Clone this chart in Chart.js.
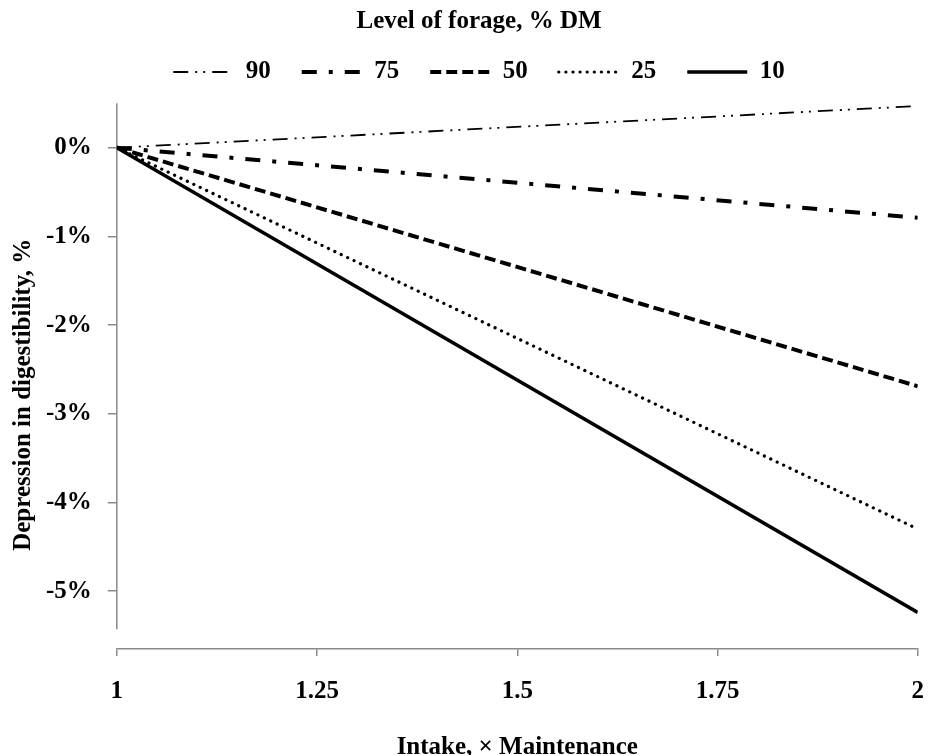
<!DOCTYPE html>
<html>
<head>
<meta charset="utf-8">
<script src="https://cdn.jsdelivr.net/npm/chart.js@4.4.1/dist/chart.umd.min.js"></script>
<style>
  html, body { margin: 0; padding: 0; background: #fff; }
  #wrap { width: 928px; height: 755px; }
</style>
</head>
<body>
<div id="wrap"><canvas id="myChart"></canvas></div>
<script>
// x values: intake as multiple of maintenance
var intake = [1, 2];
// depression in digestibility (%), per level of forage
var forage90 = [0, 0.47];
var forage75 = [0, -0.79];
var forage50 = [0, -2.69];
var forage25 = [0, -4.30];
var forage10 = [0, -5.24];
var seriesLabels = ['90', '75', '50', '25', '10'];
var yTicks = [-5, -4, -3, -2, -1, 0];
var xTicks = [1, 1.25, 1.5, 1.75, 2];

var serif = '"Liberation Serif", "Times New Roman", serif';
var axisGrey = '#8a8a8a';

function pts(values) {
  return intake.map(function (x, i) { return {x: x, y: values[i]}; });
}

function line(label, values, width, dash, cap) {
  return {
    label: label,
    data: pts(values),
    borderColor: '#000',
    backgroundColor: '#000',
    borderWidth: width,
    borderDash: dash,
    borderCapStyle: cap || 'butt',
    pointRadius: 0,
    fill: false,
    tension: 0
  };
}

// y axis line stops short of the x axis, like the original
var yAxisLine = {
  id: 'yAxisLine',
  afterLayout: function (chart) {
    // nudge legend block right and the y title down a bit
    chart.legend.left += 40;
    chart.scales.y.bottom += 46;
  },
  beforeDatasetsDraw: function (chart) {
    var y = chart.scales.y;
    var ctx = chart.ctx;
    var x = chart.chartArea.left;
    ctx.save();
    ctx.strokeStyle = axisGrey;
    ctx.lineWidth = 1.5;
    ctx.beginPath();
    ctx.moveTo(x, y.getPixelForValue(0.5));
    ctx.lineTo(x, y.getPixelForValue(-5.43));
    ctx.stroke();
    ctx.restore();
  }
};

var ctx = document.getElementById('myChart');
var myChart = new Chart(ctx, {
  type: 'line',
  data: {
    datasets: [
      line(seriesLabels[0], forage90, 1.8, [15, 7, 2, 6, 2, 7]),
      line(seriesLabels[1], forage75, 4, [15, 12, 4, 12]),
      line(seriesLabels[2], forage50, 4, [11, 5]),
      line(seriesLabels[3], forage25, 3.2, [0.1, 7], 'round'),
      line(seriesLabels[4], forage10, 3.5, [])
    ]
  },
  plugins: [yAxisLine],
  options: {
    responsive: true,
    maintainAspectRatio: false,
    animation: false,
    layout: { padding: { right: 10 } },
    plugins: {
      tooltip: { enabled: false },
      title: { display: false },
      legend: {
        position: 'top',
        title: {
          display: true,
          text: 'Level of forage, % DM',
          color: '#000',
          font: { family: serif, size: 25, weight: 'bold', lineHeight: 1 },
          padding: { top: 9.5, bottom: -6 }
        },
        labels: {
          usePointStyle: true,
          pointStyle: 'line',
          pointStyleWidth: 60,
          padding: 31,
          color: '#000',
          font: { family: serif, size: 25, weight: 'bold' },
          generateLabels: function (chart) {
            var items = Chart.defaults.plugins.legend.labels.generateLabels(chart);
            items.forEach(function (item) {
              var ds = chart.data.datasets[item.datasetIndex];
              item.lineDash = ds.borderDash;
              item.lineWidth = ds.borderWidth;
              item.lineCap = ds.borderCapStyle;
              item.strokeStyle = ds.borderColor;
              item.pointStyle = 'line';
            });
            return items;
          }
        }
      }
    },
    scales: {
      x: {
        type: 'linear',
        min: 1,
        max: 2,
        afterBuildTicks: function (axis) {
          axis.ticks = xTicks.map(function (v) { return {value: v}; });
        },
        border: { display: true, color: axisGrey, width: 1.5 },
        grid: { drawOnChartArea: false, drawTicks: true, tickLength: 7, color: axisGrey, lineWidth: 1.5 },
        ticks: {
          padding: 4,
          color: '#000',
          font: { family: serif, size: 25, weight: 'bold', lineHeight: 2.56 },
          maxRotation: 0,
          callback: function (v) { return String(v); }
        },
        title: {
          display: true,
          text: 'Intake, \u00d7 Maintenance',
          color: '#000',
          font: { family: serif, size: 25, weight: 'bold', lineHeight: 1 },
          padding: { top: 7.5, bottom: -5.5 }
        }
      },
      y: {
        type: 'linear',
        min: -5.653,
        max: 0.6,
        afterBuildTicks: function (axis) {
          axis.ticks = yTicks.map(function (v) { return {value: v}; });
        },
        border: { display: false },
        grid: { drawOnChartArea: false, drawTicks: true, tickLength: 9, color: axisGrey, lineWidth: 1.5 },
        ticks: {
          padding: 16,
          color: '#000',
          font: { family: serif, size: 25, weight: 'bold' },
          callback: function (v) { return v + '%'; }
        },
        title: {
          display: true,
          text: 'Depression in digestibility, %',
          color: '#000',
          font: { family: serif, size: 25, weight: 'bold', lineHeight: 1 },
          padding: { top: 11.5, bottom: -6.5 }
        }
      }
    }
  }
});
</script>
</body>
</html>
